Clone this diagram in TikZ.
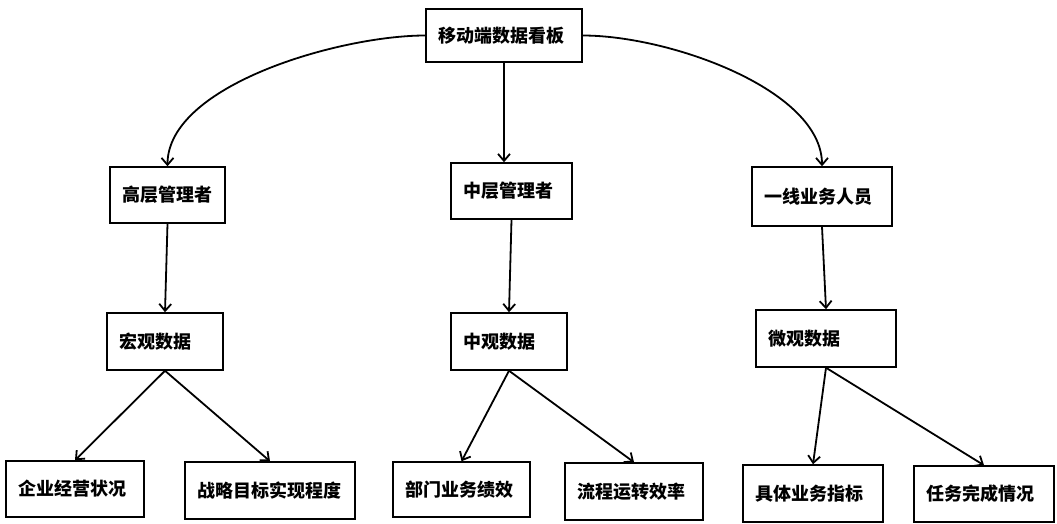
\documentclass[tikz,border=0pt]{standalone}
\usepackage{fontspec}
\newfontfamily\cjk{Noto Sans CJK SC}
\usetikzlibrary{arrows.meta}
\begin{document}
\begin{tikzpicture}[x=1pt,y=-1pt,
  box/.style={draw=black, line width=1.5pt, rectangle, inner xsep=12pt, inner ysep=0pt,
    align=left, font=\cjk\bfseries\fontsize{18pt}{20pt}\selectfont},
  conn/.style={line width=1.8pt, -{Straight Barb[length=7pt,width=12pt,line width=1.8pt]}}]
\useasboundingbox[fill=white] (0,0) rectangle (1057,523);
\newcommand{\bx}[5]{\node[box, minimum width=#3pt, minimum height=#4pt, text width=#3pt-24pt] (#1) at (#2) {#5};}
\bx{top}{504,35.5}{156}{53}{移动端数据看板}
\bx{high}{167.5,195}{115}{56}{高层管理者}
\bx{mid}{511.5,191}{121}{56}{中层管理者}
\bx{front}{822,196.5}{140}{59}{一线业务人员}
\bx{macro}{165,341.5}{116}{57}{宏观数据}
\bx{meso}{509,341.5}{116}{57}{中观数据}
\bx{micro}{826,338.5}{140}{57}{微观数据}
\bx{b1}{75,489}{138}{56}{企业经营状况}
\bx{b2}{270,490.5}{170}{57}{战略目标实现程度}
\bx{b3}{461.5,489.5}{137}{55}{部门业务绩效}
\bx{b4}{634,491.5}{138}{57}{流程运转效率}
\bx{b5}{813,493.5}{140}{57}{具体业务指标}
\bx{b6}{984,494}{140}{56}{任务完成情况}
\draw[conn] (top.west) .. controls (340,35.5) and (167.5,85) .. (high.north);
\draw[conn] (top.east) .. controls (670,35.5) and (822,90) .. (front.north);
\draw[conn] (top.south) -- (top.south |- mid.north);
\draw[conn] (high.south) -- (macro.north);
\draw[conn] (mid.south) -- (meso.north);
\draw[conn] (front.south) -- (micro.north);
\draw[conn] (macro.south) -- (b1.north);
\draw[conn] (macro.south) -- (b2.north);
\draw[conn] (meso.south) -- (b3.north);
\draw[conn] (meso.south) -- (b4.north);
\draw[conn] (micro.south) -- (b5.north);
\draw[conn] (micro.south) -- (b6.north);
\end{tikzpicture}
\end{document}
